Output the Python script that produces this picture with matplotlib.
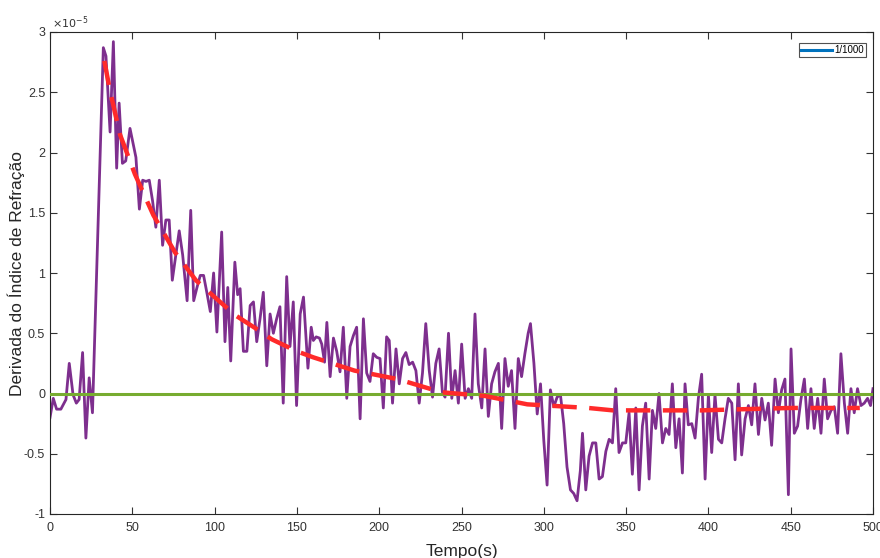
import matplotlib
matplotlib.use("Agg")
import matplotlib.pyplot as plt
from matplotlib.lines import Line2D
import numpy as np

plt.rcParams['font.family'] = ['Liberation Sans', 'DejaVu Sans']

# Measured derivative (units of 1e-5)
t_meas = [0, 2, 4, 6.6, 9.7, 11.7, 14, 16, 17.7, 19.8, 21.8, 23.8, 25.8,
          32.4, 34, 36.5, 38.5, 40.5, 42, 44, 46, 48.6, 52.2, 54.3, 56.3, 58.3, 60.3,
          62.3, 64.3, 66.4, 68.4, 70.4, 72.4, 74.3, 78.5, 80.6, 83.3, 85.5, 87.3, 89.3,
          91.3, 93.3, 95.4, 97.4, 99.4, 101.4, 104.3, 106.3, 108, 109.8, 112.3, 114,
          115.5, 117.5, 119.6, 121.6, 123.6, 125.6, 127.6, 129.6, 131.7, 133.7, 135.7,
          137.7, 139.7, 141.7, 143.8, 145.8, 147.8, 149.8,
          152, 154, 156.7, 158.7, 160, 161.7, 163.7, 165.1, 166.8, 168.2, 170.2, 172.2,
          174.2, 176.2, 178.2, 180.3, 182.3, 184.3, 186.3, 188.4, 190.4, 192.4, 194.4,
          196.4, 198.5, 200.5, 202.5, 204.5, 206.1, 208.1, 210.2, 212.2, 214.2, 216.2,
          218.2, 220.3, 222.3, 224.3, 226.3, 228.3, 230.4, 232.4, 234.4, 236.4, 238.4,
          240.0, 242.1, 244.1, 246.1, 248.1, 250.1, 252.2, 254.2, 256.2, 258.2, 260.2,
          262.3, 264.3, 266.3, 268.3, 270.3, 272.4, 274.4, 276.4, 278.4, 280.4, 282.5,
          284.5, 286.5, 288.5, 290.5, 291.9, 294.0, 296.0, 298.0, 300.0, 302.0, 304.0,
          306.1, 308.1, 310.1, 312.1, 314.1, 316.2, 318.2, 320.2, 322.2, 323.5, 325.5,
          327.5, 329.6, 331.6, 333.6, 335.6, 337.7, 339.7, 341.7, 343.7, 345.7, 347.8,
          349.8, 351.8, 353.8, 355.9, 357.9, 359.9, 361.9, 364.0, 366.0, 368.0, 370.0,
          372.1, 374.1, 376.1, 378.1, 380.2, 382.2, 384.2, 385.8, 387.8, 389.9, 391.9,
          393.9, 395.9, 398.0, 400.0, 402.0, 404.0, 406.1, 408.1, 410.1, 412.1, 414.2,
          416.2, 418.2, 420.2, 422.3, 424.3, 426.3, 428.3, 430.4, 432.4, 434.4, 436.4,
          438.4, 440.5, 442.5, 444.5, 446.5, 448.6, 450.2, 452.2, 454.2, 456.2, 458.3,
          460.3, 462.3, 464.3, 466.4, 468.4, 470.4, 472.4, 474.5, 476.5, 478.5, 480.5,
          482.6, 484.6, 486.6, 488.6, 490.6, 492.7, 494.7, 496.7, 498.5, 500]
y_meas = [-0.20, -0.04, -0.13, -0.13, -0.05, 0.25, -0.01, -0.08, -0.05, 0.34, -0.37, 0.13, -0.16,
          2.87, 2.80, 2.17, 2.92, 1.87, 2.41, 1.91, 1.93, 2.20, 1.96, 1.53, 1.77, 1.76, 1.77,
          1.60, 1.38, 1.77, 1.23, 1.44, 1.44, 0.94, 1.35, 1.15, 0.77, 1.52, 0.77, 0.88,
          0.98, 0.98, 0.83, 0.68, 1.00, 0.51, 1.34, 0.43, 0.88, 0.27, 1.09, 0.82,
          0.87, 0.35, 0.35, 0.73, 0.76, 0.43, 0.62, 0.84, 0.23, 0.66, 0.50,
          0.62, 0.72, -0.08, 0.97, 0.39, 0.76, -0.10,
          0.66, 0.80, 0.21, 0.55, 0.44, 0.47, 0.46, 0.41, 0.26, 0.59, 0.14, 0.46,
          0.35, 0.18, 0.55, -0.04, 0.39, 0.48, 0.55, -0.21, 0.62, 0.17, 0.10,
          0.33, 0.30, 0.29, -0.12, 0.47, 0.44, -0.08, 0.37, 0.08, 0.29, 0.34,
          0.24, 0.26, 0.19, -0.08, 0.17, 0.58, 0.19, -0.03, 0.25, 0.37, 0.01,
          -0.03, 0.50, -0.04, 0.19, -0.08, 0.41, -0.04, 0.04, -0.04, 0.66, 0.08,
          -0.12, 0.37, -0.19, 0.08, 0.18, 0.25, -0.29, 0.29, 0.06, 0.19, -0.29,
          0.29, 0.14, 0.33, 0.50, 0.58, 0.25, -0.17, 0.08, -0.39, -0.76, 0.03,
          -0.11, -0.03, -0.01, -0.25, -0.61, -0.80, -0.83, -0.89, -0.64, -0.33, -0.80,
          -0.52, -0.41, -0.41, -0.71, -0.69, -0.48, -0.38, -0.41, 0.04, -0.49, -0.41,
          -0.41, -0.16, -0.67, -0.12, -0.80, -0.27, -0.08, -0.71, -0.14, -0.29, 0.00,
          -0.41, -0.29, -0.34, 0.08, -0.45, -0.21, -0.66, 0.08, -0.26, -0.25, -0.37,
          -0.04, 0.16, -0.71, -0.01, -0.49, -0.01, -0.38, -0.41, -0.21, -0.04, -0.08,
          -0.55, 0.08, -0.51, -0.21, -0.10, -0.26, 0.08, -0.34, -0.04, -0.22, -0.08,
          -0.43, 0.12, -0.16, 0.03, 0.12, -0.84, 0.37, -0.33, -0.27, -0.05, 0.12,
          -0.29, 0.04, -0.29, -0.04, -0.33, 0.12, -0.21, -0.14, -0.11, -0.33, 0.33,
          -0.08, -0.33, 0.04, -0.16, 0.04, -0.10, -0.08, -0.04, -0.10, 0.04]

# Fitted curve (units of 1e-5)
t_fit = [33, 36.5, 42.5, 51.6, 62.8, 76, 88.6, 100, 112.5, 125, 134.7, 150, 160, 185,
         211, 238, 264, 290, 327, 342, 370, 396, 422, 450, 476, 492]
y_fit = [2.76, 2.51, 2.15, 1.82, 1.48, 1.17, 0.94, 0.80, 0.65, 0.54, 0.45, 0.35, 0.30, 0.19,
         0.12, 0.01, -0.02, -0.09, -0.12, -0.14, -0.14, -0.14, -0.13, -0.12, -0.12, -0.12]

zero_t = [0, 500]
zero_y = [0, 0]

x_ticks = [0, 50, 100, 150, 200, 250, 300, 350, 400, 450, 500]
y_ticks = [-1, -0.5, 0, 0.5, 1, 1.5, 2, 2.5, 3]
y_tick_labels = ['-1', '-0.5', '0', '0.5', '1', '1.5', '2', '2.5', '3']
legend_label = '1/1000'

fig = plt.figure(figsize=(8.8, 5.58), dpi=100)
ax = fig.add_axes([50/880, 44/558, 823/880, 482/558])

ax.plot(t_meas, y_meas, color='#7E2F8E', lw=2.0, zorder=2)
ax.plot(zero_t, zero_y, color='#77AC30', lw=2.2, zorder=3)
ax.plot(t_fit, y_fit, color='#FF2A2A', lw=3.2, ls=(0, (5.5, 2.8)), zorder=4)

ax.set_xlim(0, 500)
ax.set_ylim(-1, 3)
ax.set_xticks(x_ticks)
ax.set_xticklabels([str(v) for v in x_ticks])
ax.set_yticks(y_ticks)
ax.set_yticklabels(y_tick_labels)

ax.tick_params(direction='in', length=5, width=0.8, colors='#333333',
               labelsize=9, top=True, right=True, labeltop=False, labelright=False)
ax.tick_params(axis='x', pad=6)
for s in ax.spines.values():
    s.set_color('#262626')
    s.set_linewidth(0.8)

ax.set_xlabel('Tempo(s)', fontsize=12.5, color='#262626')
ax.xaxis.set_label_coords(0.5, -0.062)
ax.set_ylabel('Derivada do Índice de Refração', fontsize=12.5, color='#262626')
ax.yaxis.set_label_coords(-0.030, 0.5)

ax.text(0.002, 1.002, r'$\times10^{-5}$', transform=ax.transAxes, fontsize=8,
        color='#333333', ha='left', va='bottom')

handle = Line2D([0], [0], color='#0072BD', lw=2.2)
leg = ax.legend([handle], [legend_label], loc='upper right', fontsize=7,
                frameon=True, fancybox=False, handlelength=3.1, handletextpad=0.3,
                borderpad=0.2, borderaxespad=0.0,
                bbox_to_anchor=(0.9915, 0.977))
leg.get_frame().set_edgecolor('#262626')
leg.get_frame().set_linewidth(0.8)

fig.savefig('out.png', dpi=100)
